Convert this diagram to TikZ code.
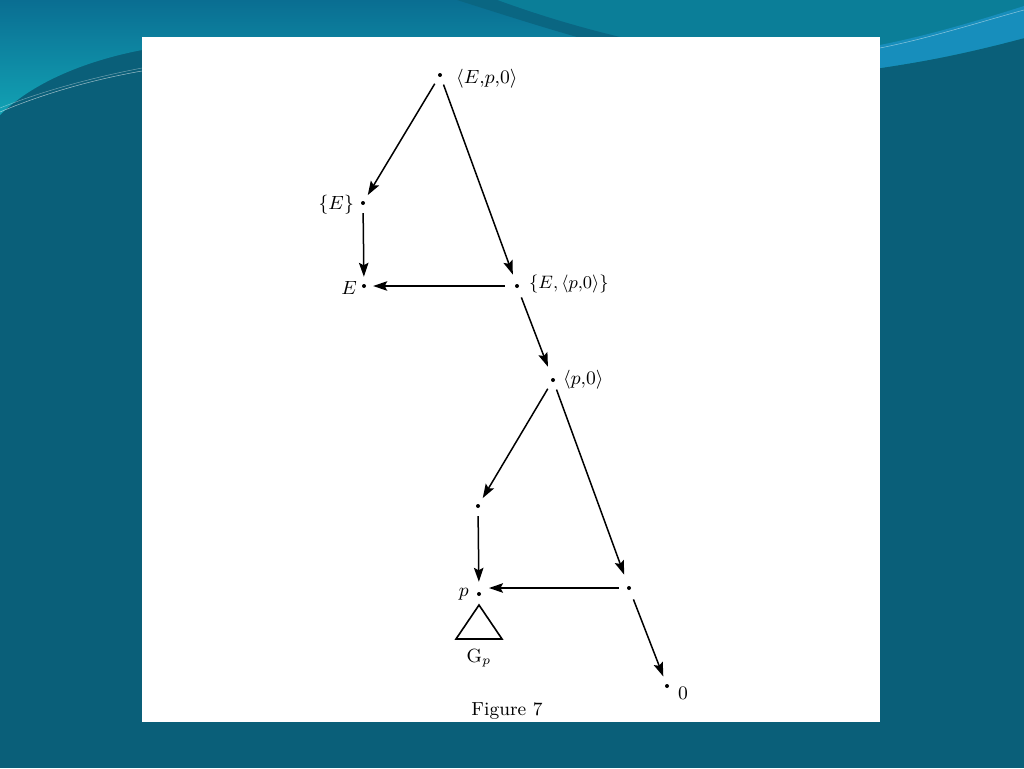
\documentclass[tikz,border=0pt]{standalone}
\usepackage{graphicx}
\usetikzlibrary{arrows.meta}
\definecolor{bgdark}{HTML}{0A5F79}
\definecolor{bgcyan}{HTML}{12A2B4}
\definecolor{bgblue}{HTML}{0A6E92}
\definecolor{bgright}{HTML}{0B7E98}
\definecolor{swoosh}{HTML}{0A6682}
\definecolor{bandblue}{HTML}{178EBC}
\newcommand{\bigtxt}[2][2.12]{\scalebox{#1}{\fontsize{9}{11}\selectfont #2}}
\begin{document}
\begin{tikzpicture}[x=1pt,y=-1pt,
  dot/.style={circle,fill=black,inner sep=0pt,minimum size=4pt},
  lab/.style={inner sep=0pt},
  arr/.style={line width=1.5pt, -{Stealth[length=14pt,width=9.5pt,inset=2.5pt]}, shorten <=8pt, shorten >=7pt}]
\useasboundingbox (0,0) rectangle (1024,768);
% background
\fill[bgdark] (0,0) rectangle (1024,768);
\shade[top color=bgblue, bottom color=bgcyan]
  (0,0) -- (1024,0) -- (1024,38) .. controls (960,55) and (920,62) .. (880,68)
  -- (880,37) -- (142,37) -- (142,50) .. controls (80,62) and (30,85) .. (0,115) -- cycle;
\fill[bgright] (497,0) -- (1024,0) -- (1024,38) .. controls (960,55) and (920,62) .. (880,68)
  -- (880,37) -- (620,37) .. controls (570,25) and (530,12) .. (497,0) -- cycle;
\fill[swoosh] (457,0) .. controls (495,12) and (535,25) .. (577,37)
  -- (620,37) .. controls (570,25) and (530,12) .. (497,0) -- cycle;
\fill[bandblue] (880,45) .. controls (930,35) and (980,20) .. (1024,6)
  -- (1024,38) .. controls (960,55) and (920,62) .. (880,68) -- cycle;
\draw[white, opacity=0.5, line width=0.5pt] (880,48) .. controls (930,38) and (980,22) .. (1024,10);
\draw[white, opacity=0.6, line width=0.5pt] (0,112) .. controls (40,95) and (90,80) .. (142,71);
\draw[white, opacity=0.4, line width=0.5pt] (0,108) .. controls (40,92) and (90,78) .. (142,68);
% white panel
\fill[white] (142,37) rectangle (880,722);
% dots
\node[dot] (top) at (440,75) {};
\node[dot] (setE) at (363,203) {};
\node[dot] (E) at (364,286) {};
\node[dot] (setEp) at (517,286) {};
\node[dot] (p0) at (553,380) {};
\node[dot] (ml) at (478,506) {};
\node[dot] (p) at (479,594) {};
\node[dot] (r) at (629,588) {};
\node[dot] (z) at (667,686) {};
\coordinate (pin) at (479,588);
% labels
\node[lab, anchor=west] (ltop) at (456,79) {\bigtxt{$\langle E{,}p{,}0\rangle$}};
\node[lab, anchor=east] (lsetE) at (354,205) {\bigtxt{$\{E\}$}};
\node[lab, anchor=east] (lE) at (357,288) {\bigtxt{$E$}};
\node[lab, anchor=west] (lsetEp) at (529,284) {\bigtxt[2]{$\{E,\langle p{,}0\rangle\}$}};
\node[lab, anchor=west] (lp0) at (563,380) {\bigtxt{$\langle p{,}0\rangle$}};
\node[lab, anchor=east] (lp) at (469,594) {\bigtxt{$p$}};
\node[lab, anchor=west] (lz) at (678,693) {\bigtxt{$0$}};
\node[lab] (lG) at (479,658) {\bigtxt{$\mathrm{G}_p$}};
\node[lab] (fig) at (507,711) {\bigtxt[2.1]{Figure 7}};
% triangle
\coordinate (ta) at (479,605);
\coordinate (tl) at (456,639);
\coordinate (tr) at (502,639);
\draw[line width=1.6pt, line join=miter] (ta) -- (tl) -- (tr) -- cycle;
% arrows
\draw[arr] (top) -- (setE);
\draw[arr, shorten >=10pt] (top) -- (setEp);
\draw[arr] (setE) -- (E);
\draw[arr, shorten <=10pt] (setEp) -- (E);
\draw[arr, shorten <=10pt, shorten >=12pt] (setEp) -- (p0);
\draw[arr] (p0) -- (ml);
\draw[arr, shorten >=12pt] (p0) -- (r);
\draw[arr, shorten >=10pt] (ml) -- (p);
\draw[arr, shorten >=10pt] (r) -- (pin);
\draw[arr, shorten >=8pt, shorten <=10pt] (r) -- (z);
\end{tikzpicture}
\end{document}
